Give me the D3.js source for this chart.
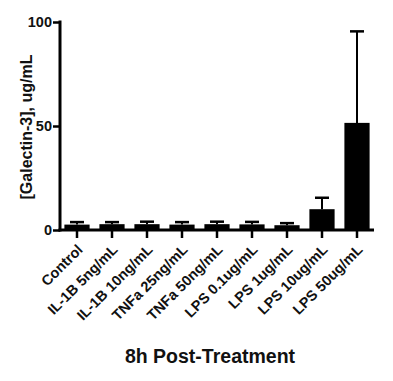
<!DOCTYPE html>
<html lang="en">
<head>
<meta charset="UTF-8" />
<title>Galectin-3 8h</title>
<script src="https://cdn.jsdelivr.net/npm/d3@7"></script>
<style>
  body { margin: 0; background: #fff; }
  text { font-family: Arial, "Liberation Sans", sans-serif; font-weight: bold; fill: #111; }
</style>
</head>
<body>
<script>
// data
var categories = ["Control", "IL-1B 5ng/mL", "IL-1B 10ng/mL", "TNFa 25ng/mL", "TNFa 50ng/mL",
                  "LPS 0.1ug/mL", "LPS 1ug/mL", "LPS 10ug/mL", "LPS 50ug/mL"];
var means = [2.6, 2.8, 2.8, 2.6, 2.8, 2.7, 2.3, 10, 51.5];
var errors = [1.2, 1.0, 1.2, 1.2, 1.2, 1.2, 1.0, 5.5, 44];
var yTicks = [0, 50, 100];

var width = 393, height = 381;

var svg = d3.select("body").append("svg")
  .attr("width", width)
  .attr("height", height);

var x = d3.scaleBand()
  .domain(categories)
  .range([59.5, 374.5])
  .paddingInner(0.28)
  .paddingOuter(0.14);

var y = d3.scaleLinear()
  .domain([0, 100])
  .range([230, 22]);

var data = categories.map(function(c, i) {
  return { name: c, mean: means[i], err: errors[i] };
});

// bars
svg.selectAll("rect.bar")
  .data(data)
  .enter().append("rect")
  .attr("class", "bar")
  .attr("x", function(d) { return x(d.name); })
  .attr("width", x.bandwidth())
  .attr("y", function(d) { return y(d.mean); })
  .attr("height", function(d) { return y(0) - y(d.mean); })
  .attr("fill", "#000");

// error bars (upper only)
var eb = svg.selectAll("g.err")
  .data(data)
  .enter().append("g")
  .attr("class", "err");

eb.append("line")
  .attr("x1", function(d) { return x(d.name) + x.bandwidth() / 2; })
  .attr("x2", function(d) { return x(d.name) + x.bandwidth() / 2; })
  .attr("y1", function(d) { return y(d.mean); })
  .attr("y2", function(d) { return y(d.mean + d.err); })
  .attr("stroke", "#000")
  .attr("stroke-width", 2);

eb.append("line")
  .attr("x1", function(d) { return x(d.name) + x.bandwidth() / 2 - 7; })
  .attr("x2", function(d) { return x(d.name) + x.bandwidth() / 2 + 7; })
  .attr("y1", function(d) { return y(d.mean + d.err); })
  .attr("y2", function(d) { return y(d.mean + d.err); })
  .attr("stroke", "#000")
  .attr("stroke-width", 2.5);

// y axis
var yAxis = d3.axisLeft(y).tickValues(yTicks).tickSize(7).tickSizeOuter(0).tickPadding(1);
var gy = svg.append("g")
  .attr("transform", "translate(60,0)")
  .call(yAxis);
gy.select(".domain").attr("stroke-width", 3).attr("d", "M0," + (y(100) - 1.5) + "V" + (y(0) + 1.5));
gy.selectAll(".tick line").attr("stroke-width", 2.5);
gy.selectAll(".tick text").style("font-size", "14.5px").attr("fill", "#111");

// x axis
var xAxis = d3.axisBottom(x).tickSize(8).tickSizeOuter(0).tickPadding(4);
var gx = svg.append("g")
  .attr("transform", "translate(0,230)")
  .call(xAxis);
gx.select(".domain").attr("stroke-width", 3).attr("d", "M58.5,0H374");
gx.selectAll(".tick line").attr("stroke-width", 2.5);
gx.selectAll(".tick text")
  .style("font-size", "14.5px")
  .attr("fill", "#111")
  .attr("text-anchor", "end")
  .attr("dy", "0.35em")
  .attr("transform", "translate(3,17) rotate(-45)")
  .attr("x", 0)
  .attr("y", 0);

// y axis label
svg.append("text")
  .attr("transform", "translate(32,127) rotate(-90)")
  .attr("text-anchor", "middle")
  .style("font-size", "16px")
  .text("[Galectin-3], ug/mL");

// x axis title
svg.append("text")
  .attr("x", 210)
  .attr("y", 363)
  .attr("text-anchor", "middle")
  .style("font-size", "19.5px")
  .text("8h Post-Treatment");
</script>
</body>
</html>
